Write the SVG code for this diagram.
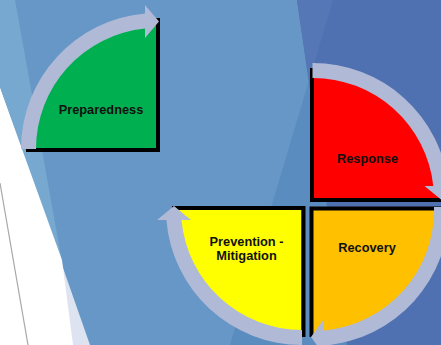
<svg xmlns="http://www.w3.org/2000/svg" width="441" height="345" viewBox="0 0 441 345">
<style>
.lbl{font-family:"Liberation Sans",Arial,sans-serif;font-weight:bold;font-size:12.8px;fill:#111;text-anchor:middle}
.band{fill:#B0B9D6}
.edge{stroke:#000;stroke-width:4;fill:none}
</style>
<g id="background">
<rect x="0" y="0" width="441" height="345" fill="#6697C6"/>
<polygon points="0,0 15,0 77,345 0,345" fill="#76A8D0"/>
<polygon points="0,88 90,345 0,345" fill="#DDE3F0"/>
<polygon points="0,88 62,260 73,345 0,345" fill="#FFFFFF"/>
<line x1="0" y1="183" x2="28" y2="345" stroke="#A8A8A8" stroke-width="1.2"/>
<polygon points="333,0 441,0 441,345 230,345" fill="#5B8CC0"/>
<polygon points="297,0 441,0 441,345 347,345" fill="#4F71B1"/>
<polygon points="297,0 333,0 309,81" fill="#5577B5"/>
</g>
<g id="preparedness">
<path d="M156,148 L29,148 A127,127 0 0 1 156,21 Z" fill="#00B050"/>
<polyline class="edge" points="26,150 158,150 158,18"/>
<text class="lbl" x="101" y="113.5">Preparedness</text>
</g>
<g id="response">
<path d="M314,198 L314,71 A127,127 0 0 1 441,198 Z" fill="#FF0000"/>
<polyline class="edge" points="312,68 312,200 441,200"/>
<text class="lbl" x="367.5" y="163">Response</text>
</g>
<g id="recovery">
<path d="M313,210 L440,210 A127,127 0 0 1 313,337 Z" fill="#FFC000"/>
<polyline class="edge" points="311.5,337 311.5,208.5 441,208.5"/>
<text class="lbl" x="367" y="252">Recovery</text>
</g>
<g id="prevention-mitigation">
<path d="M301,210 L301,337 A127,127 0 0 1 174,210 Z" fill="#FFFF00"/>
<polyline class="edge" points="172,208 303.5,208 303.5,337"/>
<text class="lbl" x="246.5" y="246">Prevention -</text>
<text class="lbl" x="246.5" y="259.5">Mitigation</text>
</g>
<g id="connectors">
<path class="band" d="M21,149 A136,136 0 0 1 145,13.5 L145,5 L159,21.5 L145,38 L145,28.6 A121,121 0 0 0 36,149 Z"/>
<path class="band" d="M312.5,63 A136,136 0 0 1 448.4,186 L458,186 L441.5,200 L424.5,186 L433.3,186 A121,121 0 0 0 312.5,78 Z"/>
<path class="band" d="M449,207 A136,136 0 0 1 324,345.6 L324,355 L311,337 L324,319 L324,330.5 A121,121 0 0 0 434,207 Z"/>
<path class="band" d="M302,345 A136,136 0 0 1 166.4,220 L157,220 L174,206 L191,220 L181.5,220 A121,121 0 0 0 302,330 Z"/>
</g>
</svg>
